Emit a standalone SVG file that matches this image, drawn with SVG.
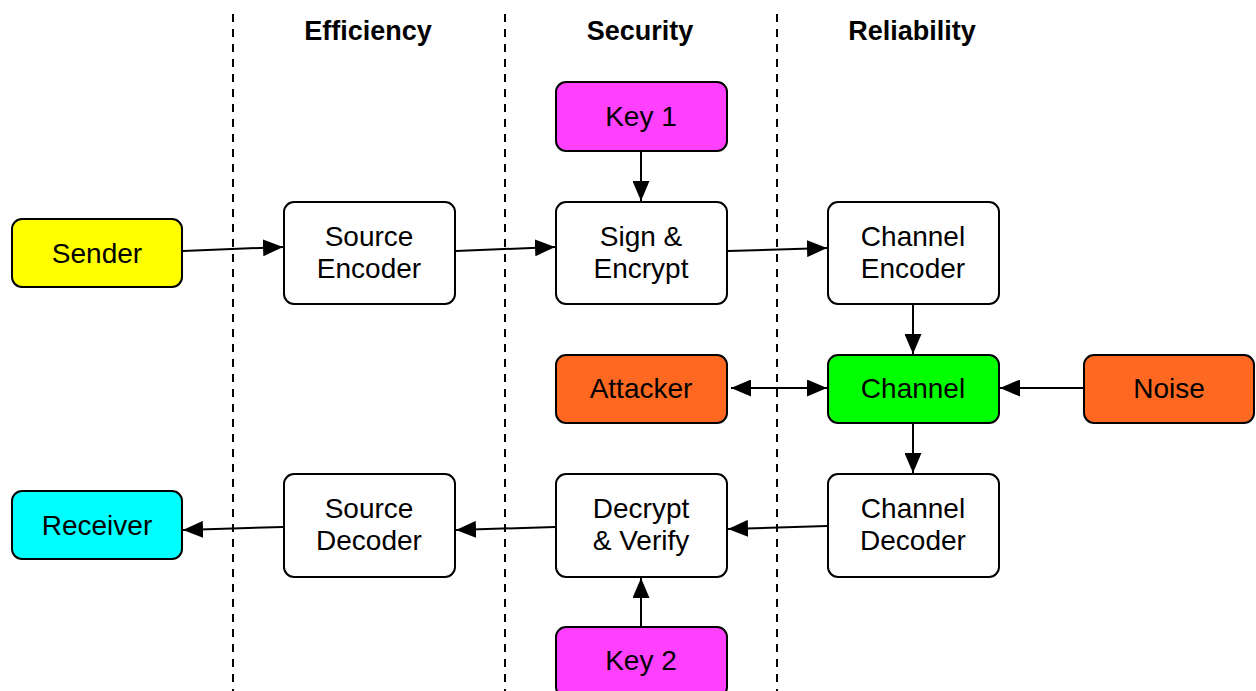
<svg xmlns="http://www.w3.org/2000/svg" width="1256" height="691" viewBox="0 0 1256 691">
<defs>
<marker id="ah" viewBox="0 0 20 17" refX="20" refY="8.5" markerWidth="20" markerHeight="17" markerUnits="userSpaceOnUse" orient="auto-start-reverse">
<path d="M0,0 L20,8.5 L0,17 Z" fill="#000"/>
</marker>
<style>
.n rect{stroke:#000;stroke-width:2;}
.n text{font-family:"Liberation Sans",Arial,sans-serif;font-size:28px;text-anchor:middle;fill:#000;}
.h{font-family:"Liberation Sans",Arial,sans-serif;font-size:27px;font-weight:bold;text-anchor:middle;fill:#000;}
.d{stroke:#000;stroke-width:2;stroke-dasharray:8,7;fill:none;}
.c line{stroke:#000;stroke-width:2;marker-end:url(#ah);}
</style>
</defs>
<rect width="1256" height="691" fill="#fff"/>
<g id="lanes">
<line class="d" x1="233" y1="14" x2="233" y2="691"/>
<line class="d" x1="505" y1="14" x2="505" y2="691"/>
<line class="d" x1="777" y1="14" x2="777" y2="691"/>
<text class="h" x="368" y="40">Efficiency</text>
<text class="h" x="640" y="40">Security</text>
<text class="h" x="912" y="40">Reliability</text>
</g>
<g id="sender" class="n"><rect x="12" y="219" width="170" height="68" rx="10" fill="#FFFF00"/><text x="97" y="263">Sender</text></g>
<g id="source-encoder" class="n"><rect x="284" y="202" width="171" height="102" rx="10" fill="#fff"/><text x="369" y="246">Source</text><text x="369" y="278">Encoder</text></g>
<g id="sign-encrypt" class="n"><rect x="556" y="202" width="171" height="102" rx="10" fill="#fff"/><text x="641" y="246">Sign &amp;</text><text x="641" y="278">Encrypt</text></g>
<g id="key1" class="n"><rect x="556" y="82" width="171" height="69" rx="10" fill="#FF40FF"/><text x="641" y="126">Key 1</text></g>
<g id="channel-encoder" class="n"><rect x="828" y="202" width="171" height="102" rx="10" fill="#fff"/><text x="913" y="246">Channel</text><text x="913" y="278">Encoder</text></g>
<g id="attacker" class="n"><rect x="556" y="355" width="171" height="68" rx="10" fill="#FF6820"/><text x="641" y="398">Attacker</text></g>
<g id="channel" class="n"><rect x="828" y="355" width="171" height="68" rx="10" fill="#00FF00"/><text x="913" y="398">Channel</text></g>
<g id="noise" class="n"><rect x="1084" y="355" width="170" height="68" rx="10" fill="#FF6820"/><text x="1169" y="398">Noise</text></g>
<g id="channel-decoder" class="n"><rect x="828" y="474" width="171" height="103" rx="10" fill="#fff"/><text x="913" y="518">Channel</text><text x="913" y="550">Decoder</text></g>
<g id="decrypt-verify" class="n"><rect x="556" y="474" width="171" height="103" rx="10" fill="#fff"/><text x="641" y="518">Decrypt</text><text x="641" y="550">&amp; Verify</text></g>
<g id="source-decoder" class="n"><rect x="284" y="474" width="171" height="103" rx="10" fill="#fff"/><text x="369" y="518">Source</text><text x="369" y="550">Decoder</text></g>
<g id="receiver" class="n"><rect x="12" y="491" width="170" height="68" rx="10" fill="#00FFFF"/><text x="97" y="535">Receiver</text></g>
<g id="key2" class="n"><rect x="556" y="627" width="171" height="70" rx="10" fill="#FF40FF"/><text x="641" y="670">Key 2</text></g>
<g id="connectors" class="c">
<line x1="183" y1="251" x2="283" y2="247"/>
<line x1="456" y1="251" x2="555" y2="247"/>
<line x1="728" y1="251" x2="827" y2="248"/>
<line x1="641" y1="152" x2="641" y2="201"/>
<line x1="913" y1="305" x2="913" y2="354"/>
<line x1="731" y1="388" x2="827" y2="388" style="marker-start:url(#ah)"/>
<line x1="1083" y1="388" x2="1000" y2="388"/>
<line x1="913" y1="424" x2="913" y2="473"/>
<line x1="827" y1="526" x2="728" y2="529"/>
<line x1="555" y1="527" x2="456" y2="530"/>
<line x1="283" y1="527" x2="183" y2="530"/>
<line x1="641" y1="626" x2="641" y2="578"/>
</g>
</svg>
